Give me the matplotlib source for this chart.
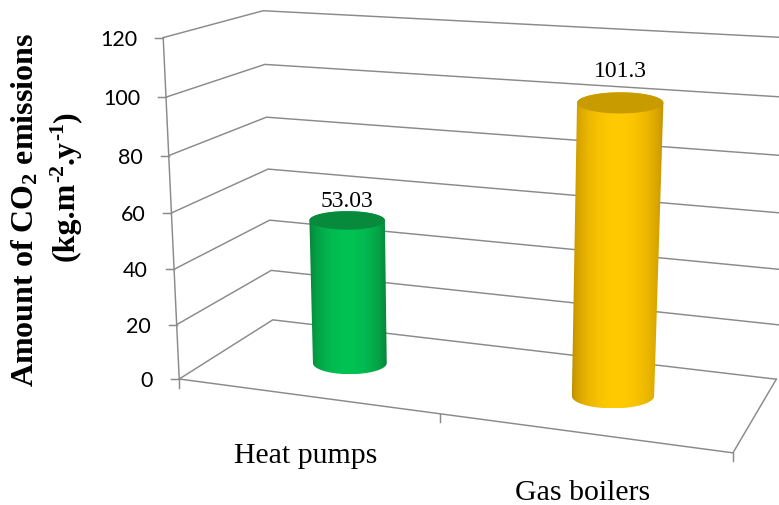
import numpy as np
import matplotlib
matplotlib.use("Agg")
import matplotlib.pyplot as plt
from matplotlib.patches import Polygon
from matplotlib.colors import to_rgb

# ---------------- data ----------------
categories = ["Heat pumps", "Gas boilers"]
values = [53.03, 101.3]
value_labels = ["53.03", "101.3"]
y_ticks = [0, 20, 40, 60, 80, 100, 120]
VMAX = 120

# ---------------- style ----------------
bar_light = ["#00C253", "#FFCA00"]
bar_dark = ["#0A7A36", "#B98800"]
bar_top = ["#078A3C", "#C89B00"]
label_gap_px = [20, 32]
grid_color = "#8A8A8A"

plt.rcParams['mathtext.fontset'] = 'custom'
plt.rcParams['mathtext.rm'] = 'Liberation Serif'
plt.rcParams['mathtext.bf'] = 'Liberation Serif:bold'
plt.rcParams['mathtext.it'] = 'Liberation Serif:italic'

W, H = 779, 506
fig = plt.figure(figsize=(W / 100, H / 100), dpi=100)
ax = fig.add_axes([0, 0, 1, 1])
ax.set_xlim(0, W)
ax.set_ylim(H, 0)
ax.axis('off')

# ---------------- 3-D camera (perspective) ----------------
# world: u along categories (0..1), t = value/VMAX, w = depth (0 front .. 1 back)
calib_world = [(0, k / 6, 0) for k in range(7)] + [(0, k / 6, 1) for k in range(7)] + \
              [(0.5, 0, 0), (1, 0, 0), (1, 0, 1), (1, 0.5, 1), (1, 1, 1)]
calib_px = [(180, 380), (176.5, 325), (173.5, 270), (171, 214), (168, 157), (166, 98), (163.5, 39),
            (272, 321), (271.5, 272), (270, 221), (268, 170), (267, 118), (265, 65), (263, 12),
            (441, 415), (733, 454), (776, 380), (784.6, 214.5), (794, 38.8)]


def fit_camera(world, px):
    A = []
    for (X, Y, Z), (x, y) in zip(world, px):
        x /= W
        y /= H
        A.append([X, Y, Z, 1, 0, 0, 0, 0, -x * X, -x * Y, -x * Z, -x])
        A.append([0, 0, 0, 0, X, Y, Z, 1, -y * X, -y * Y, -y * Z, -y])
    _, _, Vt = np.linalg.svd(np.array(A, float))
    return Vt[-1].reshape(3, 4)


P = fit_camera(calib_world, calib_px)


def proj(u, v, w):
    u, v, w = np.broadcast_arrays(np.asarray(u, float), np.asarray(v, float), np.asarray(w, float))
    X = np.stack([u.ravel(), v.ravel() / VMAX, w.ravel(), np.ones(u.size)])
    p = P @ X
    x = p[0] / p[2] * W
    y = p[1] / p[2] * H
    if x.size == 1:
        return float(x[0]), float(y[0])
    return x.reshape(u.shape), y.reshape(u.shape)


lw = 1.05
# walls: gridlines on left side wall and back wall
for v in y_ticks:
    xs, ys = proj([0, 0, 1], [v, v, v], [0, 1, 1])
    ax.plot(xs, ys, color=grid_color, lw=lw, zorder=1)
# floor front and right edges
xs, ys = proj([0, 1, 1], [0, 0, 0], [0, 0, 1])
ax.plot(xs, ys, color=grid_color, lw=lw, zorder=1)
# value axis
xs, ys = proj([0, 0], [0, VMAX], [0, 0])
ax.plot(xs, ys, color=grid_color, lw=lw, zorder=2)
for v in y_ticks:
    x0, y0 = proj(0, v, 0)
    ax.plot([x0 - 8, x0], [y0, y0], color=grid_color, lw=lw, zorder=2)
    ax.text(x0 - 26, y0 + 1, str(v), ha='right', va='center', fontsize=15.5,
            family='Lato', color='black')
# category ticks
n = len(categories)
for k in range(n + 1):
    x0, y0 = proj(k / n, 0, 0)
    ax.plot([x0, x0], [y0, y0 + 8.5], color=grid_color, lw=lw, zorder=2)

# cylinders
ru, wc, top_ratio, bot_ratio = 0.074, 0.5, 0.245, 0.30
theta = np.linspace(0, 2 * np.pi, 240)
for i, (cat, val) in enumerate(zip(categories, values)):
    uc = (i + 0.5) / n
    tcx, tcy = proj(uc, val, wc)
    bcx, bcy = proj(uc, 0, wc)
    ta = (proj(uc + ru, val, wc)[0] - proj(uc - ru, val, wc)[0]) / 2
    ba = (proj(uc + ru, 0, wc)[0] - proj(uc - ru, 0, wc)[0]) / 2
    tb, bb = ta * top_ratio, ba * bot_ratio
    # body outline: bottom front arc (left->right) then top back arc (right->left)
    arc = np.linspace(np.pi, 0, 120)
    bot_x = bcx + ba * np.cos(arc)
    bot_y = bcy + bb * np.sin(arc)
    top_arc = np.linspace(0, -np.pi, 120)
    top_x = tcx + ta * np.cos(top_arc)
    top_y = tcy + tb * np.sin(top_arc)
    body = np.column_stack([np.r_[bot_x, top_x], np.r_[bot_y, top_y]])
    poly = Polygon(body, closed=True, facecolor='none', edgecolor='none',
                   transform=ax.transData)
    ax.add_patch(poly)
    x_min, x_max = body[:, 0].min(), body[:, 0].max()
    s = np.linspace(0, 1, 300)
    f = np.sin(np.pi * s) ** 0.55
    c0 = np.array(to_rgb(bar_dark[i]))
    c1 = np.array(to_rgb(bar_light[i]))
    img = c0[None, :] + (c1 - c0)[None, :] * f[:, None]
    im = ax.imshow(img[None, :, :], extent=[x_min, x_max, body[:, 1].max(), body[:, 1].min()],
                   aspect='auto', zorder=3, interpolation='bilinear')
    im.set_clip_path(poly)
    ex = tcx + ta * np.cos(theta)
    ey = tcy + tb * np.sin(theta)
    ax.add_patch(Polygon(np.column_stack([ex, ey]), closed=True,
                         facecolor=bar_top[i], edgecolor='none', zorder=4))
    ax.text(tcx, tcy - label_gap_px[i], value_labels[i], ha='center', va='center',
            fontsize=17, family='Liberation Serif', zorder=5)
    fx, fy = proj(uc, 0, 0)
    ax.text(fx, fy + 66, cat, ha='center', va='baseline', fontsize=21.5,
            family='Liberation Serif', zorder=5)

# axis title
ax.text(25, 210, r"Amount of CO$_\mathbf{2}$ emissions", rotation=90, ha='center',
        va='center', fontsize=23, family='Liberation Serif', fontweight='bold')

# second title line built from pieces (superscripts raised = shifted left)
renderer = fig.canvas.get_renderer()
pieces = [("(kg.m", False), ("-2", True), (".y", False), ("-1", True), (")", False)]
base_x, fs = 74, 23
tmp = []
total = 0
for txt, sup in pieces:
    size = fs * 0.68 if sup else fs
    t = ax.text(0, 0, txt, rotation=90, rotation_mode='anchor', ha='left', va='baseline',
                fontsize=size, family='Liberation Serif', fontweight='bold')
    h = t.get_window_extent(renderer).height
    tmp.append((t, h, sup))
    total += h
y_cur = 186 + total / 2
for t, h, sup in tmp:
    t.set_position((base_x - (11 if sup else 0), y_cur))
    y_cur -= h

fig.savefig("out.png", dpi=100, facecolor='white')
